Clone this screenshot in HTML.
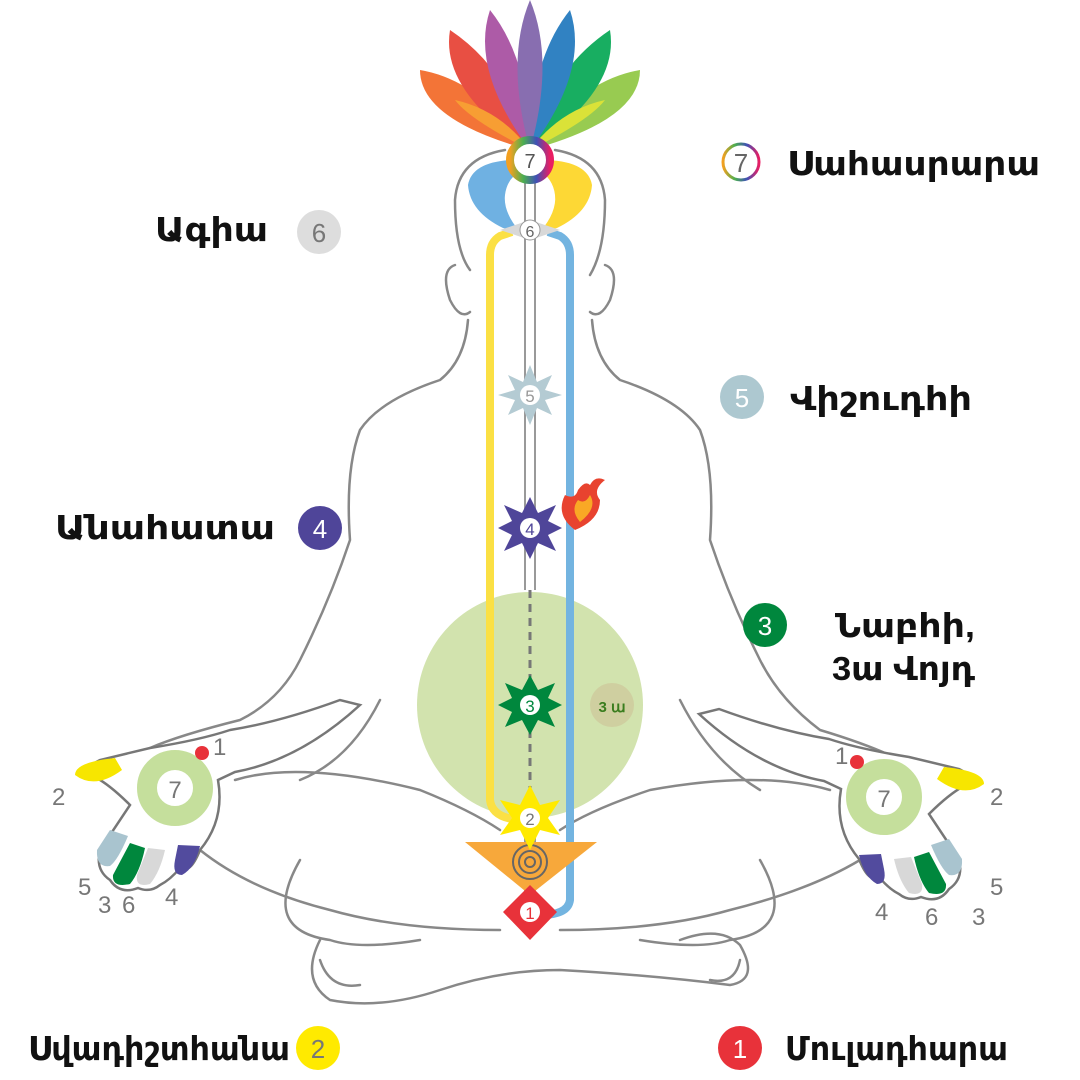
<!DOCTYPE html>
<html><head><meta charset="utf-8"><style>
body{margin:0;background:#fff}
svg{display:block}
.t{font-family:"Liberation Sans","DejaVu Sans",sans-serif;font-weight:bold;font-size:33px;fill:#111}
.n{font-family:"Liberation Sans",sans-serif;font-size:26px;fill:#fff}
.g{font-family:"Liberation Sans",sans-serif;font-size:24px;fill:#777}
</style></head><body>
<svg width="1080" height="1080" viewBox="0 0 1080 1080" xmlns="http://www.w3.org/2000/svg">
<defs>
<g id="hand">
<path d="M95,777 Q80,770 100,760 L150,748 Q200,740 230,730 Q280,722 340,700 L360,705 Q300,760 235,772 L218,780 Q225,820 200,850 Q190,875 180,868 Q170,880 160,885 Q150,893 138,888 Q120,895 110,880 Q95,870 100,850 Q120,820 130,805 Q110,785 95,777 Z" fill="#fff" stroke="#777" stroke-width="2.5"/>
<path d="M75,775 Q75,762 115,758 L122,770 Q95,790 75,775Z" fill="#f7e600"/>
<path d="M110,830 L128,836 Q118,860 110,866 Q96,868 97,850Z" fill="#a9c4cf"/>
<path d="M130,843 L145,848 Q140,872 130,884 Q112,888 113,875Z" fill="#00873d"/>
<path d="M148,848 L165,850 Q160,872 150,884 Q135,888 137,875Z" fill="#d8d8d8"/>
<path d="M178,845 L200,846 Q195,868 182,875 Q172,875 175,860Z" fill="#524b9e"/>
<circle cx="175" cy="788" r="28" fill="none" stroke="#c5df9c" stroke-width="20"/>
<circle cx="202" cy="753" r="7" fill="#e8323a"/>
</g>
<linearGradient id="ring" x1="0" x2="1"><stop offset="0" stop-color="#f3a020"/><stop offset=".33" stop-color="#4caf50"/><stop offset=".66" stop-color="#3f51b5"/><stop offset="1" stop-color="#e91e63"/></linearGradient>
</defs>

<!-- body outline -->
<g fill="none" stroke="#888" stroke-width="2.5" stroke-linecap="round">
<path d="M470,270 Q455,250 455,200 Q458,158 505,150 M555,150 Q602,158 605,200 Q605,250 590,275"/>
<path d="M455,265 Q440,270 450,300 Q460,320 470,312 M605,265 Q620,270 610,300 Q600,320 590,312"/>
<path d="M468,320 Q465,360 440,380 Q380,400 360,430 Q345,470 350,540 Q330,600 300,660 Q280,700 240,720 Q180,735 150,748"/>
<path d="M592,320 Q595,360 620,380 Q680,400 700,430 Q715,470 710,540 Q730,600 760,660 Q780,700 820,730 Q870,745 900,760"/>
<path d="M380,700 Q350,760 300,780 M680,700 Q710,760 760,790"/>
<path d="M235,780 Q300,760 420,790 Q470,810 500,830 M830,790 Q760,770 650,790 Q590,810 560,830"/>
<path d="M200,850 Q250,890 330,910 Q400,930 500,930 M860,860 Q810,890 730,910 Q660,930 560,930"/>
<path d="M300,860 Q260,930 330,940 Q360,950 420,940 M760,860 Q800,930 730,940 Q700,950 640,940"/>
<path d="M320,940 Q300,980 330,1000 Q380,1010 440,990 Q500,970 560,970 Q650,975 730,985 Q760,980 740,945 Q720,925 680,940"/>
<path d="M320,960 Q330,990 360,985 M740,960 Q735,985 710,980"/>
</g>

<!-- lotus -->
<g opacity=".9">
<path d="M530,150 Q420,120 420,70 Q480,80 530,150Z" fill="#f26522"/>
<path d="M530,150 Q640,120 640,70 Q580,80 530,150Z" fill="#8dc63f"/>
<path d="M530,150 Q440,90 450,30 Q510,70 530,150Z" fill="#e63c2f"/>
<path d="M530,150 Q620,90 610,30 Q550,70 530,150Z" fill="#00a651"/>
<path d="M530,150 Q470,70 490,10 Q530,60 530,150Z" fill="#a54a9e"/>
<path d="M530,150 Q590,70 570,10 Q530,60 530,150Z" fill="#1b75bc"/>
<path d="M530,150 Q505,60 530,0 Q555,60 530,150Z" fill="#7c5fa8"/>
<path d="M530,150 Q470,120 455,100 Q500,110 530,150Z" fill="#f7941d"/>
<path d="M530,150 Q590,120 605,100 Q560,110 530,150Z" fill="#d7df23"/>
</g>
<!-- crescents -->
<path d="M512,160 Q472,162 468,185 Q470,212 503,228 L520,232 Q503,212 505,195 Q507,178 522,170 Z" fill="#6fb1e2"/>
<path d="M548,160 Q588,162 592,185 Q590,212 557,228 L540,232 Q557,212 555,195 Q553,178 538,170 Z" fill="#fdd835"/>
<!-- green circle -->
<circle cx="530" cy="705" r="113" fill="#d2e3ae"/>
<!-- channels -->
<path d="M512,232 L500,236 Q490,242 490,255 L490,800 Q492,818 520,820" fill="none" stroke="#fbe044" stroke-width="8"/>
<path d="M548,232 L560,236 Q570,242 570,255 L570,900 Q568,915 540,915" fill="none" stroke="#73b4e0" stroke-width="8"/>
<path d="M525,170 V590 M535,170 V590 M525,800 V900 M535,800 V900" stroke="#999" stroke-width="2"/>
<path d="M530,590 V800" stroke="#777" stroke-width="3" stroke-dasharray="8 6"/>
<polygon points="500,230 530,220 560,230 530,240" fill="#d8d8d8"/>
<circle cx="530" cy="230" r="10" fill="#fff" stroke="#999"/>
<text x="530" y="237" text-anchor="middle" font-family="Liberation Sans" font-size="16" fill="#666">6</text>
<circle cx="530" cy="160" r="20" fill="#fff" stroke="url(#ring)" stroke-width="8"/>
<text x="530" y="168" text-anchor="middle" font-family="Liberation Sans" font-size="20" fill="#555">7</text>
<!-- 5 -->
<polygon points="530,365 537,382 552,375 545,390 562,395 545,400 552,415 537,408 530,425 523,408 508,415 515,400 498,395 515,390 508,375 523,382" fill="#b4cbd3"/>
<circle cx="530" cy="395" r="10" fill="#fff"/><text x="530" y="402" text-anchor="middle" font-family="Liberation Sans" font-size="17" fill="#999">5</text>
<!-- 4 -->
<polygon points="530,497 538,513 556,505 548,521 562,528 548,535 556,551 538,543 530,559 522,543 504,551 512,535 498,528 512,521 504,505 522,513" fill="#4f4599"/>
<circle cx="530" cy="528" r="10" fill="#fff"/><text x="530" y="535" text-anchor="middle" font-family="Liberation Sans" font-size="17" fill="#4f4599">4</text>
<!-- flame -->
<path d="M575,530 Q555,515 565,495 Q575,500 578,490 Q585,480 590,485 Q595,475 605,480 Q592,490 600,500 Q600,520 575,530Z" fill="#e8432f"/>
<path d="M580,522 Q570,510 578,500 Q585,505 590,495 Q598,508 580,522Z" fill="#f9a825"/>
<circle cx="612" cy="705" r="22" fill="#cfcfa0"/>
<text x="612" y="712" text-anchor="middle" font-family="Liberation Sans" font-weight="bold" font-size="15" fill="#3a7d1e">3 ա</text>
<polygon points="530,675 538,690 555,683 548,698 562,705 548,712 555,727 538,720 530,735 522,720 505,727 512,712 498,705 512,698 505,683 522,690" fill="#00873d"/>
<circle cx="530" cy="705" r="10" fill="#fff"/><text x="530" y="712" text-anchor="middle" font-family="Liberation Sans" font-size="17" fill="#00873d">3</text>
<!-- triangle + 2 -->
<polygon points="465,842 597,842 530,895" fill="#f7a83b"/>
<g fill="none" stroke="#666" stroke-width="2"><circle cx="530" cy="862" r="5"/><circle cx="530" cy="862" r="11"/><circle cx="530" cy="862" r="17"/></g>
<polygon points="530,785 540,805 560,800 548,818 560,835 540,830 530,850 520,830 500,835 512,818 500,800 520,805" fill="#ffea00"/>
<circle cx="530" cy="818" r="10" fill="#fff"/><text x="530" y="825" text-anchor="middle" font-family="Liberation Sans" font-size="17" fill="#777">2</text>
<!-- 1 -->
<polygon points="530,885 557,912 530,940 503,912" fill="#e8323a"/>
<circle cx="530" cy="912" r="10" fill="#fff"/><text x="530" y="919" text-anchor="middle" font-family="Liberation Sans" font-size="17" fill="#e8323a">1</text>

<!-- hands -->
<use href="#hand"/>
<use href="#hand" transform="translate(1059,9) scale(-1,1)"/>
<text x="175" y="798" text-anchor="middle" class="g" fill="#666">7</text>
<text x="884" y="807" text-anchor="middle" class="g" fill="#666">7</text>
<g class="g"><text x="213" y="755">1</text><text x="52" y="805">2</text><text x="78" y="895">5</text><text x="98" y="913">3</text><text x="122" y="913">6</text><text x="165" y="905">4</text>
<text x="835" y="764">1</text><text x="990" y="805">2</text><text x="990" y="895">5</text><text x="972" y="925">3</text><text x="925" y="925">6</text><text x="875" y="920">4</text></g>

<!-- labels -->
<circle cx="741" cy="162" r="18" fill="#fff" stroke="url(#ring)" stroke-width="3"/>
<text x="741" y="172" text-anchor="middle" font-family="Liberation Sans" font-size="26" fill="#666">7</text>
<text x="787" y="175" class="t" textLength="253" lengthAdjust="spacingAndGlyphs">Սահասրարա</text>
<text x="155" y="241" class="t" textLength="113" lengthAdjust="spacingAndGlyphs">Ագիա</text>
<circle cx="319" cy="232" r="22" fill="#ddd"/><text x="319" y="242" text-anchor="middle" class="n" style="fill:#777">6</text>
<circle cx="742" cy="397" r="22" fill="#adc8d0"/><text x="742" y="407" text-anchor="middle" class="n">5</text>
<text x="790" y="410" class="t" textLength="182" lengthAdjust="spacingAndGlyphs">Վիշուդհի</text>
<text x="55" y="539" class="t" textLength="220" lengthAdjust="spacingAndGlyphs">Անահատա</text>
<circle cx="320" cy="528" r="22" fill="#4f4599"/><text x="320" y="538" text-anchor="middle" class="n">4</text>
<circle cx="765" cy="625" r="22" fill="#00873d"/><text x="765" y="635" text-anchor="middle" class="n">3</text>
<text x="835" y="637" class="t" textLength="140" lengthAdjust="spacingAndGlyphs">Նաբհի,</text>
<text x="832" y="680" class="t" textLength="143" lengthAdjust="spacingAndGlyphs">3ա Վոյդ</text>
<text x="28" y="1060" class="t" textLength="262" lengthAdjust="spacingAndGlyphs">Սվադիշտհանա</text>
<circle cx="318" cy="1048" r="22" fill="#ffea00"/><text x="318" y="1058" text-anchor="middle" class="n" style="fill:#777">2</text>
<circle cx="740" cy="1048" r="22" fill="#e8323a"/><text x="740" y="1058" text-anchor="middle" class="n">1</text>
<text x="785" y="1060" class="t" textLength="223" lengthAdjust="spacingAndGlyphs">Մուլադհարա</text>
</svg>
</body></html>
